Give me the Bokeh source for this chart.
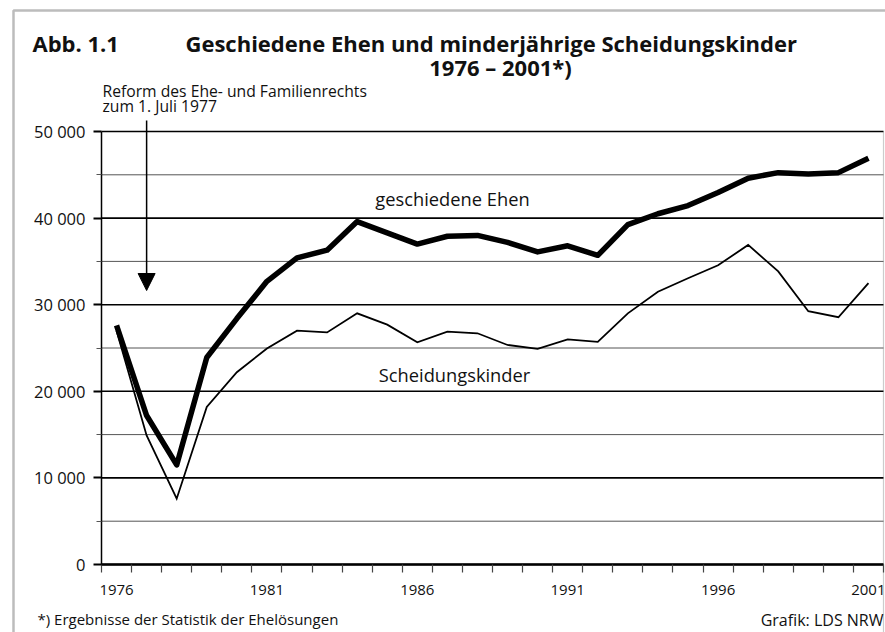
from bokeh.plotting import figure
from bokeh.models import (ColumnDataSource, FixedTicker, Label, Arrow, NormalHead,
                          BoxAnnotation, Range1d)
from bokeh.embed import file_html
from bokeh.resources import INLINE

# ---------------- data ----------------
years = [1976, 1977, 1978, 1979, 1980, 1981, 1982, 1983, 1984, 1985, 1986, 1987, 1988,
         1989, 1990, 1991, 1992, 1993, 1994, 1995, 1996, 1997, 1998, 1999, 2000, 2001]
geschiedene_ehen = [27600, 17200, 11500, 23900, 28400, 32700, 35400, 36300, 39600, 38300,
                    37000, 37900, 38000, 37200, 36100, 36800, 35700, 39250, 40500, 41450,
                    42950, 44600, 45250, 45100, 45250, 46900]
scheidungskinder = [27000, 14900, 7600, 18200, 22200, 24950, 27000, 26800, 29000, 27700,
                    25650, 26900, 26700, 25350, 24900, 26000, 25700, 29000, 31500, 33050,
                    34550, 36900, 33850, 29250, 28550, 32500]

x_tick_years = [1976, 1981, 1986, 1991, 1996, 2001]
x_minor_ticks = [y - 0.5 for y in years] + [years[-1] + 0.5]
y_ticks = [0, 10000, 20000, 30000, 40000, 50000]
y_tick_labels = ["0", "10 000", "20 000", "30 000", "40 000", "50 000"]
y_minor_ticks = [5000, 15000, 25000, 35000, 45000]
reform_year = 1977

FONT = "Open Sans"

# ---------------- page geometry (pixels) ----------------
W, H = 885, 632
PX_L, PX_R = 101, 883      # plot area left / right
PX_T, PX_B = 131, 564      # plot area top (50 000) / bottom (0)
x_lo, x_hi = years[0] - 0.5, years[-1] + 0.5
y_lo, y_hi = y_ticks[0], y_ticks[-1]
xs = (PX_R - PX_L) / (x_hi - x_lo)
ys = (PX_B - PX_T) / (y_hi - y_lo)

p = figure(width=W, height=H, output_backend="svg", toolbar_location=None, title=None,
           x_range=Range1d(x_lo - PX_L / xs, x_hi + (W - PX_R) / xs),
           y_range=Range1d(y_lo - (H - PX_B) / ys, y_hi + PX_T / ys),
           min_border=0)
p.background_fill_color = "white"
p.border_fill_color = "white"
p.outline_line_color = None
p.xgrid.visible = False
p.ygrid.visible = False

# x axis (drawn at y = 0)
xa = p.xaxis[0]
xa.fixed_location = y_lo
xa.bounds = (x_lo, x_hi)
xa.ticker = FixedTicker(ticks=x_tick_years, minor_ticks=x_minor_ticks)
xa.major_tick_out = 0
xa.major_tick_in = 0
xa.major_tick_line_color = None
xa.minor_tick_out = 8
xa.minor_tick_in = 0
xa.minor_tick_line_color = "#444444"
xa.minor_tick_line_width = 1.2
xa.axis_line_color = "black"
xa.axis_line_width = 2.5
xa.major_label_text_font = FONT
xa.major_label_text_font_size = "15px"
xa.major_label_text_color = "#111111"
xa.major_label_standoff = 12

# y axis (drawn at left edge of plot area)
ya = p.yaxis[0]
ya.fixed_location = x_lo
ya.bounds = (y_lo, y_hi)
ya.ticker = FixedTicker(ticks=y_ticks, minor_ticks=y_minor_ticks)
ya.major_label_overrides = {t: l for t, l in zip(y_ticks, y_tick_labels)}
ya.major_tick_out = 8
ya.major_tick_in = 0
ya.major_tick_line_color = "black"
ya.major_tick_line_width = 1.8
ya.minor_tick_out = 5
ya.minor_tick_in = 0
ya.minor_tick_line_color = "#555555"
ya.minor_tick_line_width = 1
ya.axis_line_color = "black"
ya.axis_line_width = 1.5
ya.major_label_text_font = FONT
ya.major_label_text_font_size = "16.5px"
ya.major_label_text_color = "#111111"
ya.major_label_standoff = 8

# horizontal grid lines across the plot area
p.segment(x0=[x_lo] * len(y_minor_ticks), x1=[x_hi] * len(y_minor_ticks),
          y0=y_minor_ticks, y1=y_minor_ticks, line_color="#555555", line_width=1)
p.segment(x0=[x_lo] * len(y_ticks), x1=[x_hi] * len(y_ticks),
          y0=y_ticks, y1=y_ticks, line_color="black", line_width=1.6)

# data lines
src = ColumnDataSource(dict(year=years, ehen=geschiedene_ehen, kinder=scheidungskinder))
p.line("year", "kinder", source=src, line_color="black", line_width=1.8, line_join="miter")
p.line("year", "ehen", source=src, line_color="black", line_width=5.5, line_join="round")


# ---------------- annotations ----------------
def lab(text, xi, yi, size, bold=False, align="left", color="#111111"):
    # yi = wanted baseline (page pixels); correct for label box placement
    shift = 0.42 * size
    p.add_layout(Label(x=xi, y=H - (yi - shift), x_units="screen", y_units="screen",
                       text=text, text_font=FONT, text_font_size=f"{size}px",
                       text_font_style="bold" if bold else "normal",
                       text_align=align, text_baseline="alphabetic", text_color=color))


lab("Abb. 1.1", 32, 52, 22, bold=True)
lab("Geschiedene Ehen und minderjährige Scheidungskinder", 185, 52, 22, bold=True)
lab("1976 \u2013 2001*)", 500, 76, 22, bold=True, align="center")
lab("Reform des Ehe- und Familienrechts", 102, 97, 15.7)
lab("zum 1. Juli 1977", 102, 112, 15.7)
lab("geschiedene Ehen", 452, 206, 18.3, align="center")
lab("Scheidungskinder", 454, 382, 18.3, align="center")
lab("*) Ergebnisse der Statistik der Ehelösungen", 37, 625, 15)
lab("Grafik: LDS NRW", 883, 626, 16, align="right")

# reform arrow (1 July 1977)
p.add_layout(Arrow(x_start=reform_year, y_start=y_hi + (PX_T - 120) / ys,
                   x_end=reform_year, y_end=y_hi - (290 - PX_T) / ys,
                   line_color="black", line_width=1.5,
                   end=NormalHead(size=17, fill_color="black", line_color="black")))

# right border of the plot area
p.add_layout(BoxAnnotation(left=PX_R, right=PX_R, top=H - PX_T, bottom=-5,
                           left_units="screen", right_units="screen",
                           top_units="screen", bottom_units="screen",
                           fill_alpha=0, line_color="#555555", line_width=1.2))

# outer frame
p.add_layout(BoxAnnotation(left=13, right=W + 10, top=H - 10, bottom=-10,
                           left_units="screen", right_units="screen",
                           top_units="screen", bottom_units="screen",
                           fill_alpha=0, line_color="#222222", line_width=2.5))

open("out.html", "w").write(file_html(p, INLINE))
